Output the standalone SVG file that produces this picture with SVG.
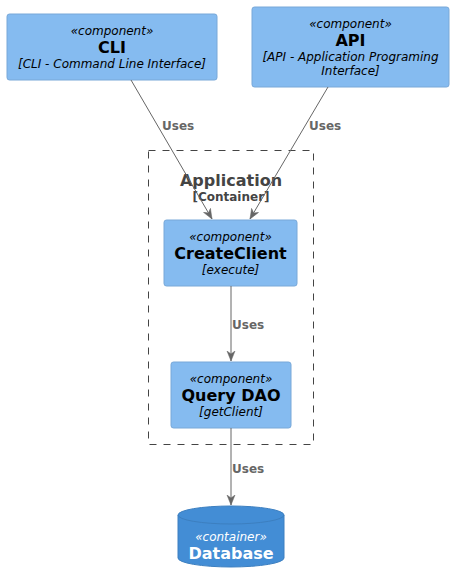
<svg xmlns="http://www.w3.org/2000/svg" width="454" height="583" viewBox="0 0 454 583">
<style>
.comp{fill:#85BBF0;stroke:#78A8D8;stroke-width:1}
.db{fill:#438DD5;stroke:#3C7FC0;stroke-width:1}
.st{font-family:"DejaVu Sans",sans-serif;font-size:12px;font-style:italic;text-anchor:middle;fill:#000}
.tt{font-family:"DejaVu Sans",sans-serif;font-size:16px;font-weight:bold;text-anchor:middle;fill:#000}
.ds{font-family:"DejaVu Sans",sans-serif;font-size:12px;font-style:italic;text-anchor:middle;fill:#000}
.w{fill:#FFFFFF}
.lbl{font-family:"DejaVu Sans",sans-serif;font-size:12px;font-weight:bold;fill:#666666}
.edge{stroke:#666666;stroke-width:1;fill:none}
.bt{font-family:"DejaVu Sans",sans-serif;font-weight:bold;text-anchor:middle;fill:#444444}
</style>
<defs>
<marker id="arr" viewBox="0 0 10 10" refX="10" refY="5" markerWidth="10" markerHeight="10" markerUnits="userSpaceOnUse" orient="auto">
<path d="M0,1 L10,5 L0,9 L3,5 Z" fill="#666666" stroke="#666666" stroke-width="0.5"/>
</marker>
</defs>
<g id="boundary-application">
<rect x="148.5" y="150.5" width="165" height="294" fill="none" stroke="#444444" stroke-width="1" stroke-dasharray="7,7"/>
<text class="bt" x="231" y="186" font-size="16">Application</text>
<text class="bt" x="231" y="201" font-size="12">[Container]</text>
</g>
<g id="node-cli">
<rect class="comp" x="7" y="14" width="210" height="66" rx="2.5"/>
<text class="st" x="112" y="35">«component»</text>
<text class="tt" x="112" y="53">CLI</text>
<text class="ds" x="112" y="68">[CLI - Command Line Interface]</text>
</g>
<g id="node-api">
<rect class="comp" x="252" y="7" width="197" height="80" rx="2.5"/>
<text class="st" x="350.5" y="28">«component»</text>
<text class="tt" x="350.5" y="46">API</text>
<text class="ds" x="350.5" y="61">[API - Application Programing</text>
<text class="ds" x="350.5" y="75">Interface]</text>
</g>
<g id="node-createclient">
<rect class="comp" x="164" y="220" width="133" height="66" rx="2.5"/>
<text class="st" x="230.5" y="241">«component»</text>
<text class="tt" x="230.5" y="259">CreateClient</text>
<text class="ds" x="230.5" y="274">[execute]</text>
</g>
<g id="node-querydao">
<rect class="comp" x="171" y="362" width="120" height="66" rx="2.5"/>
<text class="st" x="231" y="383">«component»</text>
<text class="tt" x="231" y="401">Query DAO</text>
<text class="ds" x="231" y="416">[getClient]</text>
</g>
<g id="node-database">
<path class="db" d="M178,515 A53,9 0 0 1 284,515 L284,558 A53,9 0 0 1 178,558 Z"/>
<path d="M178,515 A53,9 0 0 0 284,515" fill="none" stroke="#3C7FC0" stroke-width="1"/>
<text class="st w" x="231" y="541">«container»</text>
<text class="tt w" x="231" y="559">Database</text>
</g>
<g id="connectors">
<line class="edge" x1="131" y1="80" x2="212" y2="219" marker-end="url(#arr)"/>
<text class="lbl" x="162" y="130">Uses</text>
<line class="edge" x1="328" y1="87" x2="250" y2="219" marker-end="url(#arr)"/>
<text class="lbl" x="309" y="130">Uses</text>
<line class="edge" x1="231" y1="286" x2="231" y2="361" marker-end="url(#arr)"/>
<text class="lbl" x="232" y="329">Uses</text>
<line class="edge" x1="231" y1="428" x2="231" y2="505" marker-end="url(#arr)"/>
<text class="lbl" x="232" y="473">Uses</text>
</g>
</svg>
